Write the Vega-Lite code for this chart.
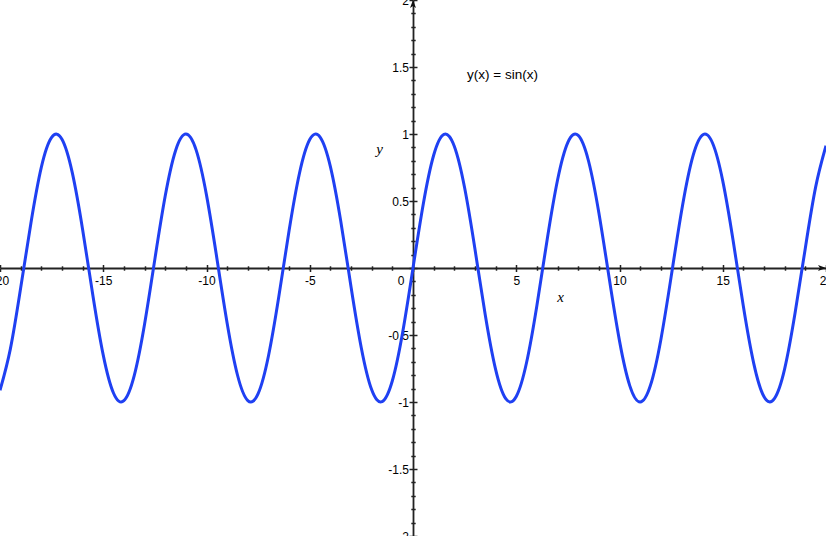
{
  "$schema": "https://vega.github.io/schema/vega-lite/v6.json",
  "width": 826,
  "height": 536,
  "padding": 0,
  "autosize": {"type": "none"},
  "background": "white",
  "config": {"view": {"stroke": null}, "axis": {"grid": false}},
  "datasets": {
    "sine": [
      {"x": -20, "y": -0.9129}, {"x": -19.5, "y": -0.6055}, {"x": -19, "y": -0.1499}, {"x": -18.5, "y": 0.3383},
      {"x": -18, "y": 0.751}, {"x": -17.5, "y": 0.9748}, {"x": -17, "y": 0.9614}, {"x": -16.5, "y": 0.7118},
      {"x": -16, "y": 0.2879}, {"x": -15.5, "y": -0.2065}, {"x": -15, "y": -0.6503}, {"x": -14.5, "y": -0.9349},
      {"x": -14, "y": -0.9906}, {"x": -13.5, "y": -0.8038}, {"x": -13, "y": -0.4202}, {"x": -12.5, "y": 0.0663},
      {"x": -12, "y": 0.5366}, {"x": -11.5, "y": 0.8755}, {"x": -11, "y": 1.0}, {"x": -10.5, "y": 0.8797},
      {"x": -10, "y": 0.544}, {"x": -9.5, "y": 0.0752}, {"x": -9, "y": -0.4121}, {"x": -8.5, "y": -0.7985},
      {"x": -8, "y": -0.9894}, {"x": -7.5, "y": -0.938}, {"x": -7, "y": -0.657}, {"x": -6.5, "y": -0.2151},
      {"x": -6, "y": 0.2794}, {"x": -5.5, "y": 0.7055}, {"x": -5, "y": 0.9589}, {"x": -4.5, "y": 0.9775},
      {"x": -4, "y": 0.7568}, {"x": -3.5, "y": 0.3508}, {"x": -3, "y": -0.1411}, {"x": -2.5, "y": -0.5985},
      {"x": -2, "y": -0.9093}, {"x": -1.5, "y": -0.9975}, {"x": -1, "y": -0.8415}, {"x": -0.5, "y": -0.4794},
      {"x": 0, "y": 0},
      {"x": 0.5, "y": 0.4794}, {"x": 1, "y": 0.8415}, {"x": 1.5, "y": 0.9975}, {"x": 2, "y": 0.9093},
      {"x": 2.5, "y": 0.5985}, {"x": 3, "y": 0.1411}, {"x": 3.5, "y": -0.3508}, {"x": 4, "y": -0.7568},
      {"x": 4.5, "y": -0.9775}, {"x": 5, "y": -0.9589}, {"x": 5.5, "y": -0.7055}, {"x": 6, "y": -0.2794},
      {"x": 6.5, "y": 0.2151}, {"x": 7, "y": 0.657}, {"x": 7.5, "y": 0.938}, {"x": 8, "y": 0.9894},
      {"x": 8.5, "y": 0.7985}, {"x": 9, "y": 0.4121}, {"x": 9.5, "y": -0.0752}, {"x": 10, "y": -0.544},
      {"x": 10.5, "y": -0.8797}, {"x": 11, "y": -1.0}, {"x": 11.5, "y": -0.8755}, {"x": 12, "y": -0.5366},
      {"x": 12.5, "y": -0.0663}, {"x": 13, "y": 0.4202}, {"x": 13.5, "y": 0.8038}, {"x": 14, "y": 0.9906},
      {"x": 14.5, "y": 0.9349}, {"x": 15, "y": 0.6503}, {"x": 15.5, "y": 0.2065}, {"x": 16, "y": -0.2879},
      {"x": 16.5, "y": -0.7118}, {"x": 17, "y": -0.9614}, {"x": 17.5, "y": -0.9748}, {"x": 18, "y": -0.751},
      {"x": 18.5, "y": -0.3383}, {"x": 19, "y": 0.1499}, {"x": 19.5, "y": 0.6055}, {"x": 20, "y": 0.9129}
    ],
    "one": [{}]
  },
  "resolve": {"axis": {"x": "independent", "y": "independent"}},
  "layer": [
    {
      "data": {"name": "sine"},
      "mark": {"type": "line", "interpolate": "natural", "color": "#1f40f2", "strokeWidth": 3},
      "encoding": {
        "x": {
          "field": "x", "type": "quantitative",
          "scale": {"domain": [-20, 20], "nice": false, "zero": false},
          "axis": {
            "orient": "bottom", "offset": -268,
            "values": [-20, -15, -10, -5, 0, 5, 10, 15, 20],
            "tickSize": 3.5, "tickColor": "#222", "tickWidth": 1.5,
            "domain": true, "domainColor": "#222", "domainWidth": 1.8,
            "labelExpr": "'' + datum.value",
            "labelAlign": {"condition": {"test": "datum.value == 0", "value": "right"}, "value": "center"},
            "labelOffset": {"condition": {"test": "datum.value == 0", "value": -9}, "value": 0},
            "labelFont": "Liberation Sans", "labelFontSize": 12, "labelColor": "#000", "labelPadding": 4,
            "labelOverlap": false, "labelBound": false, "labelFlush": false,
            "title": "x", "titleFont": "Liberation Serif", "titleFontStyle": "italic", "titleFontWeight": "normal",
            "titleFontSize": 15, "titleColor": "#000", "titleX": 560, "titleY": 28,
            "titleAlign": "center", "titleBaseline": "middle", "titleAngle": 0
          }
        },
        "y": {
          "field": "y", "type": "quantitative",
          "scale": {"domain": [-2, 2], "nice": false, "zero": false},
          "axis": {
            "orient": "left", "offset": -413,
            "values": [-2, -1.5, -1, -0.5, 0, 0.5, 1, 1.5, 2],
            "tickSize": 4, "tickColor": "#222", "tickWidth": 1.5,
            "domain": true, "domainColor": "#222", "domainWidth": 1.8,
            "labelExpr": "datum.value == 0 ? '' : '' + datum.value",
            "labelFont": "Liberation Sans", "labelFontSize": 12, "labelColor": "#000", "labelPadding": 0.5,
            "labelOverlap": false, "labelBound": false, "labelFlush": false, "labelBaseline": "middle",
            "title": "y", "titleFont": "Liberation Serif", "titleFontStyle": "italic", "titleFontWeight": "normal",
            "titleFontSize": 15, "titleColor": "#000", "titleX": -34, "titleY": 148,
            "titleAlign": "center", "titleBaseline": "middle", "titleAngle": 0
          }
        }
      }
    },
    {
      "data": {"name": "one"},
      "mark": {"type": "point", "shape": "M0,0 L-0.75,2 L0,1.5 L0.75,2 Z", "filled": true, "size": 64, "color": "#111", "opacity": 1},
      "encoding": {
        "x": {"datum": 0, "type": "quantitative",
          "axis": {"orient": "top", "offset": -268, "values": [-20, -15, -10, -5, 0, 5, 10, 15, 20],
            "tickSize": 3.5, "tickColor": "#222", "tickWidth": 1.5, "domain": false, "labels": false, "title": null}},
        "y": {"datum": 2, "type": "quantitative",
          "axis": {"orient": "right", "offset": -413, "values": [-2, -1.5, -1, -0.5, 0, 0.5, 1, 1.5, 2],
            "tickSize": 4, "tickColor": "#222", "tickWidth": 1.5, "domain": false, "labels": false, "title": null}}
      }
    },
    {
      "data": {"name": "one"},
      "mark": {"type": "point", "shape": "M0,0 L-2,-0.75 L-1.5,0 L-2,0.75 Z", "filled": true, "size": 64, "color": "#111", "opacity": 1},
      "encoding": {
        "x": {"datum": 20, "type": "quantitative",
          "axis": {"orient": "bottom", "offset": -268,
            "values": [-19, -18, -17, -16, -14, -13, -12, -11, -9, -8, -7, -6, -4, -3, -2, -1, 1, 2, 3, 4, 6, 7, 8, 9, 11, 12, 13, 14, 16, 17, 18, 19],
            "tickSize": 2.2, "tickColor": "#222", "tickWidth": 1.5, "domain": false, "labels": false, "title": null}},
        "y": {"datum": 0, "type": "quantitative",
          "axis": {"orient": "left", "offset": -413,
            "values": [-1.9, -1.8, -1.7, -1.6, -1.4, -1.3, -1.2, -1.1, -0.9, -0.8, -0.7, -0.6, -0.4, -0.3, -0.2, -0.1, 0.1, 0.2, 0.3, 0.4, 0.6, 0.7, 0.8, 0.9, 1.1, 1.2, 1.3, 1.4, 1.6, 1.7, 1.8, 1.9],
            "tickSize": 2.2, "tickColor": "#222", "tickWidth": 1.5, "domain": false, "labels": false, "title": null}}
      }
    },
    {
      "data": {"name": "one"},
      "mark": {"type": "text", "align": "left", "baseline": "middle", "font": "Liberation Sans", "fontSize": 13.5, "color": "#000"},
      "encoding": {
        "x": {"datum": 2.62, "type": "quantitative",
          "axis": {"orient": "top", "offset": -268,
            "values": [-19, -18, -17, -16, -14, -13, -12, -11, -9, -8, -7, -6, -4, -3, -2, -1, 1, 2, 3, 4, 6, 7, 8, 9, 11, 12, 13, 14, 16, 17, 18, 19],
            "tickSize": 2.2, "tickColor": "#222", "tickWidth": 1.5, "domain": false, "labels": false, "title": null}},
        "y": {"datum": 1.44, "type": "quantitative",
          "axis": {"orient": "right", "offset": -413,
            "values": [-1.9, -1.8, -1.7, -1.6, -1.4, -1.3, -1.2, -1.1, -0.9, -0.8, -0.7, -0.6, -0.4, -0.3, -0.2, -0.1, 0.1, 0.2, 0.3, 0.4, 0.6, 0.7, 0.8, 0.9, 1.1, 1.2, 1.3, 1.4, 1.6, 1.7, 1.8, 1.9],
            "tickSize": 2.2, "tickColor": "#222", "tickWidth": 1.5, "domain": false, "labels": false, "title": null}},
        "text": {"value": "y(x) = sin(x)"}
      }
    }
  ]
}
